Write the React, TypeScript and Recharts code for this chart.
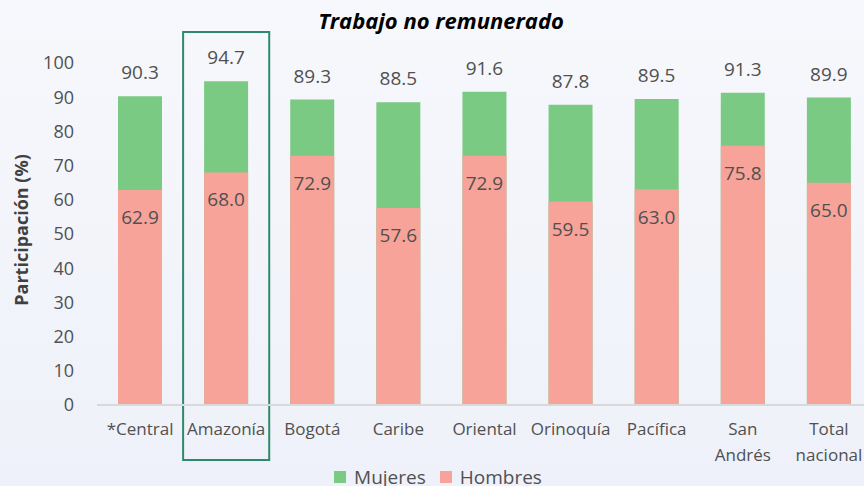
import React from "react";
import { BarChart, Bar, XAxis, YAxis, LabelList, Legend, ReferenceArea } from "recharts";

const regions = ["*Central", "Amazonía", "Bogotá", "Caribe", "Oriental", "Orinoquía", "Pacífica", "San Andrés", "Total nacional"];
const totals = [90.3, 94.7, 89.3, 88.5, 91.6, 87.8, 89.5, 91.3, 89.9];
const hombres = [62.9, 68.0, 72.9, 57.6, 72.9, 59.5, 63.0, 75.8, 65.0];
const yTicks = [0, 10, 20, 30, 40, 50, 60, 70, 80, 90, 100];

const data = regions.map((region, i) => ({
  region,
  total: totals[i],
  hombres: hombres[i],
}));

const FONT = "'Open Sans', 'Noto Sans', sans-serif";
const TEXT = "#505050";
const GREEN = "#7bca83";
const PINK = "#f7a399";

function RegionTick(props: any) {
  const { x, y, payload } = props;
  const words = String(payload.value).split(" ");
  return (
    <g transform={`translate(${x},${y})`}>
      {words.map((w: string, i: number) => (
        <text
          key={i}
          x={0}
          y={i * 26}
          dy={16}
          textAnchor="middle"
          fill={TEXT}
          fontSize={17}
          fontFamily={FONT}
        >
          {w}
        </text>
      ))}
    </g>
  );
}

function TopLabel(props: any) {
  const { x, y, width, value } = props;
  return (
    <text x={x + width / 2} y={y - 24} textAnchor="middle" dominantBaseline="central" fill={TEXT} fontSize={19} fontFamily={FONT}>
      {Number(value).toFixed(1)}
    </text>
  );
}

function InsideLabel(props: any) {
  const { x, y, width, value } = props;
  return (
    <text x={x + width / 2} y={y + 27} textAnchor="middle" dominantBaseline="central" fill={TEXT} fontSize={19} fontFamily={FONT}>
      {Number(value).toFixed(1)}
    </text>
  );
}

function LegendContent() {
  const items = [
    { label: "Mujeres", color: GREEN },
    { label: "Hombres", color: PINK },
  ];
  return (
    <div style={{ height: 34, paddingTop: 9, boxSizing: "border-box", display: "flex", justifyContent: "center", fontFamily: FONT, fontSize: 19, color: TEXT, lineHeight: "24px", marginLeft: 18 }}>
      {items.map((it) => (
        <div key={it.label} style={{ display: "flex", alignItems: "center", marginRight: 14 }}>
          <span style={{ display: "inline-block", width: 12, height: 12, background: it.color, marginRight: 8 }} />
          {it.label}
        </div>
      ))}
    </div>
  );
}

export default function App() {
  return (
    <div
      style={{
        position: "fixed",
        left: 0,
        top: 0,
        width: 864,
        height: 486,
        overflow: "hidden",
        background: "linear-gradient(#f7f8fc, #eef1f9)",
      }}
    >
      <div
        style={{
          position: "absolute",
          left: 0,
          width: 882,
          top: 5,
          textAlign: "center",
          fontFamily: FONT,
          fontWeight: 700,
          fontStyle: "italic",
          fontSize: 22,
          color: "#000",
        }}
      >
        Trabajo no remunerado
      </div>
      <div style={{ position: "absolute", left: 0, top: 0 }}>
        <BarChart
          width={880}
          height={489}
          data={data}
          margin={{ top: 63, right: 8, bottom: 0, left: 0 }}
          barSize={44}
          barGap={-44}
        >
          <XAxis
            dataKey="region"
            tick={<RegionTick />}
            tickLine={false}
            axisLine={{ stroke: "#d9d9d9", strokeWidth: 2 }}
            interval={0}
            height={50}
            tickMargin={8}
          />
          <YAxis
            width={97}
            domain={[0, 100]}
            ticks={yTicks}
            interval={0}
            axisLine={false}
            tickLine={false}
            tickSize={0}
            tickMargin={23}
            tick={{ fill: TEXT, fontSize: 18, fontFamily: FONT }}
            label={{
              value: "Participación (%)",
              angle: -90,
              position: "insideLeft",
              dx: 17,
              dy: -4,
              style: { fill: "#404040", fontSize: 18, fontWeight: 700, fontFamily: FONT, textAnchor: "middle" },
            }}
          />
          <Legend verticalAlign="bottom" content={<LegendContent />} />
          <Bar dataKey="total" name="Mujeres" fill={GREEN} isAnimationActive={false}>
            <LabelList dataKey="total" content={<TopLabel />} />
          </Bar>
          <Bar dataKey="hombres" name="Hombres" fill={PINK} isAnimationActive={false}>
            <LabelList dataKey="hombres" content={<InsideLabel />} />
          </Bar>
          <ReferenceArea
            x1="Amazonía"
            x2="Amazonía"
            y1={-16.1}
            y2={109.1}
            ifOverflow="visible"
            fill="none"
            stroke="#2e8a6b"
            strokeWidth={2}
          />
        </BarChart>
      </div>
    </div>
  );
}
